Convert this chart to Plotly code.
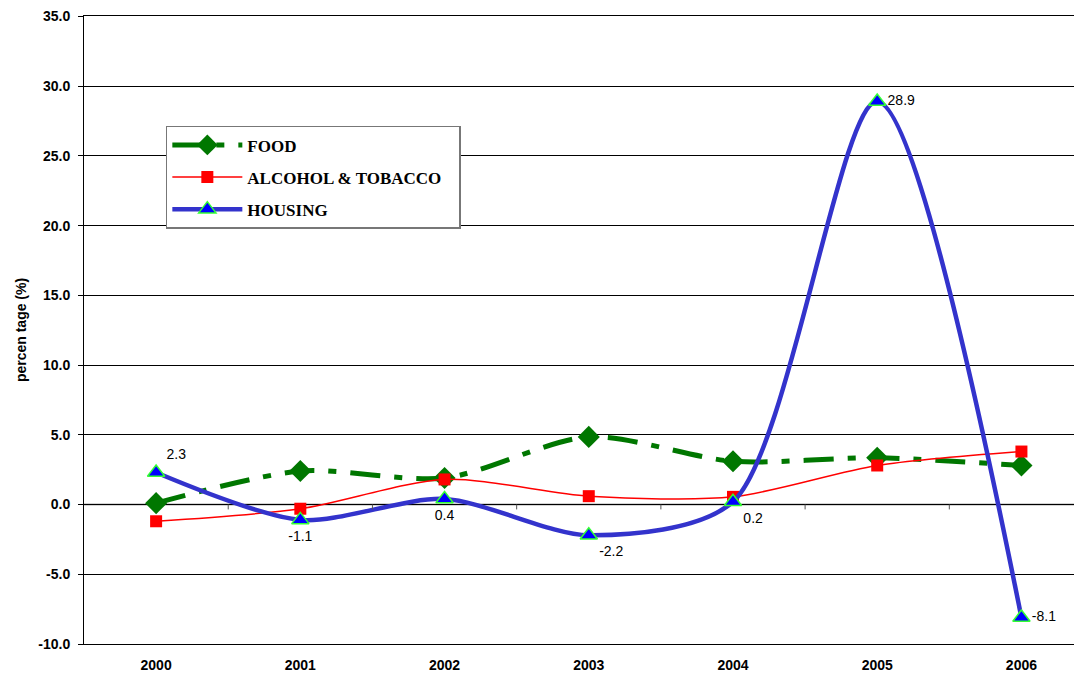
import plotly.graph_objects as go

years = ["2000", "2001", "2002", "2003", "2004", "2005", "2006"]
food = [0.1, 2.4, 1.9, 4.85, 3.1, 3.35, 2.8]
alcohol_tobacco = [-1.2, -0.3, 1.8, 0.6, 0.55, 2.8, 3.8]
housing = [2.3, -1.1, 0.4, -2.2, 0.2, 28.9, -8.1]
housing_labels = ["2.3", "-1.1", "0.4", "-2.2", "0.2", "28.9", "-8.1"]
label_positions = ["top right", "bottom center", "bottom center", "bottom right",
                   "bottom right", "middle right", "middle right"]
y_ticks = [-10, -5, 0, 5, 10, 15, 20, 25, 30, 35]
y_tick_text = ["-10.0", "-5.0", "0.0", "5.0", "10.0", "15.0", "20.0", "25.0", "30.0", "35.0"]

axis_font = dict(family="Arial, Liberation Sans", size=14, color="black", weight="bold")

fig = go.Figure()

fig.add_trace(go.Scatter(
    x=years, y=food, name="FOOD", mode="lines+markers", legendgroup="food",
    line=dict(color="#007700", width=5, shape="spline", smoothing=0.8, dash="30px,14px,8px,14px"),
    marker=dict(symbol="diamond", size=17, color="#007700"),
))
fig.add_trace(go.Scatter(
    x=years, y=alcohol_tobacco, name="ALCOHOL & TOBACCO\u00a0\u00a0\u00a0", mode="lines+markers",
    legendgroup="alc",
    line=dict(color="#FF0000", width=1.5, shape="spline", smoothing=0.8),
    marker=dict(symbol="square", size=12, color="#FF0000"),
))
fig.add_trace(go.Scatter(
    x=years, y=housing, name="HOUSING", mode="lines+markers+text", legendgroup="housing",
    line=dict(color="#3333CC", width=4.5, shape="spline", smoothing=0.8),
    marker=dict(symbol="triangle-up", size=15, color="#0000FF",
                line=dict(color="#33FF33", width=1.5)),
    text=housing_labels, textposition=label_positions,
    textfont=dict(family="Arial, Liberation Sans", size=14, color="black"),
))

# category tick marks hanging off the zero line
for i in range(1, 7):
    fig.add_shape(type="line", xref="x", yref="y", x0=i - 0.5, x1=i - 0.5, y0=0, y1=-0.35,
                  line=dict(color="#555555", width=1))
fig.add_shape(type="line", xref="x", yref="y", x0=-0.5, x1=6.45, y0=0, y1=0,
              line=dict(color="#555555", width=1.5), layer="below")

# the page body adds an 8px offset, so the figure is sized to sit inside the window
fig.update_layout(
    width=1074, height=670,
    margin=dict(l=76, r=0, t=8, b=34),
    paper_bgcolor="white", plot_bgcolor="white",
    showlegend=True,
    legend=dict(
        x=0.082, y=0.825, xanchor="left", yanchor="top",
        bgcolor="white", bordercolor="#777777", borderwidth=1.5,
        font=dict(family="Times New Roman, Liberation Serif", size=17, color="black", weight="bold"),
        itemwidth=70, tracegroupgap=7,
    ),
    xaxis=dict(
        type="category", range=[-0.5, 6.42], automargin=False,
        showgrid=False, zeroline=False,
        showline=True, mirror=True, linecolor="black", linewidth=1,
        ticks="", ticklabelstandoff=8, tickfont=axis_font,
    ),
    yaxis=dict(
        range=[-10, 35.03], tickvals=y_ticks, ticktext=y_tick_text, automargin=False,
        showgrid=True, gridcolor="black", gridwidth=1,
        zeroline=False, showline=True, linecolor="black", linewidth=1,
        ticks="outside", ticklen=5, tickcolor="black", ticklabelstandoff=5,
        tickfont=axis_font,
        title=dict(text="percen tage (%)", standoff=8, font=axis_font),
    ),
)
fig.write_html("out.html")
